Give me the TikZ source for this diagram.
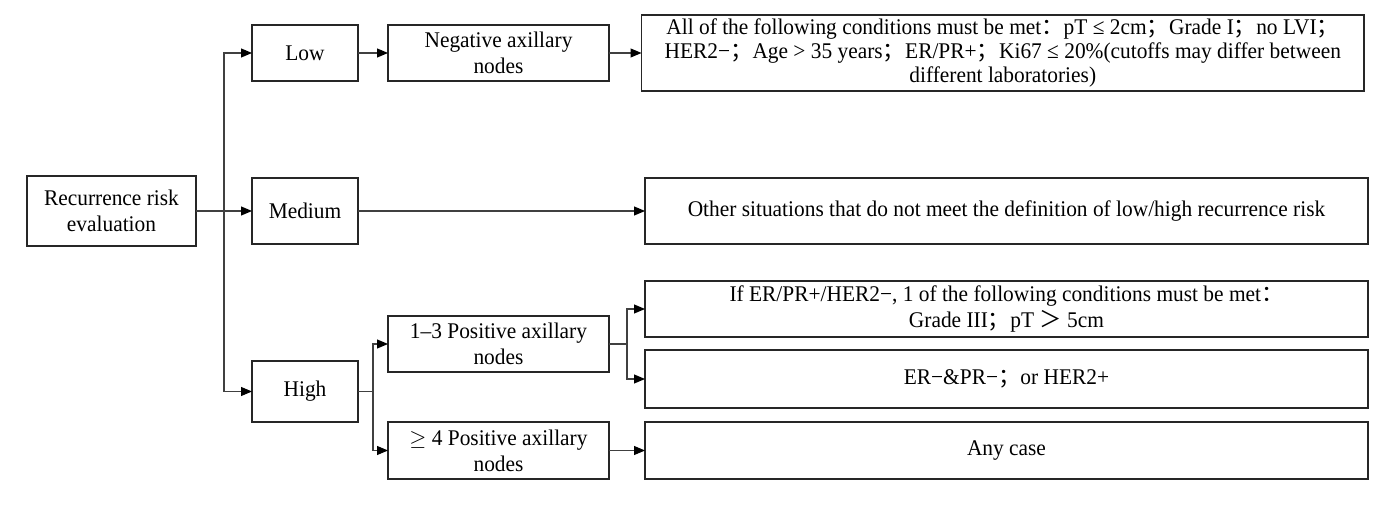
\documentclass[tikz,border=0pt]{standalone}
\usepackage{fontspec}
\setmainfont{Liberation Serif}[FakeStretch=0.955]
\newfontfamily\cjk{Noto Sans CJK SC}
\usepackage{tikz}
\usetikzlibrary{calc}
\usetikzlibrary{arrows.meta, positioning}
\newcommand\fw[1]{{\cjk #1}}

\begin{document}
\begin{tikzpicture}[x=0.5pt, y=-0.5pt,
    every node/.style={font=\fontsize{11.2}{13}\selectfont},
    arr/.style = {-{Triangle[length=5.5pt,width=4.5pt,color=black]}, line width=0.55pt, draw=black!75},
    lnk/.style = {line width=0.55pt, draw=black!75},
    box/.style = {rectangle, draw=black!85, line width=0.9pt, align=center, outer sep=0pt,
                     minimum width=53pt, minimum height=28pt, inner sep=2pt},
    wbox/.style = {box, minimum width=110.5pt},
    cbox/.style = {box, minimum width=361.5pt}
]
\useasboundingbox (0,0) rectangle (1390,506);

\node (risk) [box, minimum width=84.5pt, minimum height=35pt] at (111.5,211) {Recurrence risk\\ evaluation};

\node (med) [box, minimum height=33pt, right=28pt of risk] {Medium};
\node (low) [box] at (305,53) {Low};
\node (high) [box, minimum height=30.5pt] at (305,391.5) {High};

\node (neg) [wbox, right=15pt of low] {Negative axillary\\ nodes};
\node (pos13) [wbox] at (498.5,344) {1--3 Positive axillary\\ nodes};
\node (pos4) [wbox, minimum height=28.5pt] at (498.5,450.5) {$\geq$ 4 Positive axillary\\ nodes};

\node (lowc) [cbox, minimum width=361.25pt, minimum height=37pt, right=16.25pt of neg,
    font=\fontsize{11.2}{12}\selectfont]
  {All of the following conditions must be met\fw{：}pT ≤ 2cm\fw{；}Grade I\fw{；}no LVI\fw{；}\\
   HER2−\fw{；}Age > 35 years\fw{；}ER/PR+\fw{；}Ki67 ≤ 20\%(cutoffs may differ between\\
   different laboratories)};
\node (medc) [cbox, minimum height=33pt, right=143.5pt of med]
  {Other situations that do not meet the definition of low/high recurrence risk};
\node (hrc) [cbox] at (1006.5,309)
  {If ER/PR+/HER2−, 1 of the following conditions must be met\fw{：}\\ Grade III\fw{；}pT \fw{＞} 5cm};
\node (neg2) [cbox, minimum height=29pt, below=6.5pt of hrc] {ER−\&PR−\fw{；}or HER2+};
\node (any) [cbox, minimum height=28.5pt, right=18pt of pos4] {Any case};

\coordinate (t1) at ($(risk.east)!0.5!(med.west)$);
\coordinate (t2) at ($(high.east)!0.5!(high.east -| pos13.west)$);
\coordinate (t3) at ($(pos13.east)!0.5!(pos13.east -| hrc.west)$);

\draw[arr]   (risk) -- (med);
\draw[arr]   (t1) |- (low);
\draw[arr]   (t1) |- (high);
\draw[arr]   (low) -- (neg);
\draw[arr]   (neg) -- (lowc);
\draw[arr]   (med) -- (medc);
\draw[lnk]   (high) -- (t2);
\draw[arr]   (t2) |- (pos13);
\draw[arr]   (t2) |- (pos4);
\draw[lnk]   (pos13) -- (t3);
\draw[arr]   (t3) |- (hrc);
\draw[arr]   (t3) |- (neg2);
\draw[arr]   (pos4) -- (any);

\end{tikzpicture}
\end{document}
